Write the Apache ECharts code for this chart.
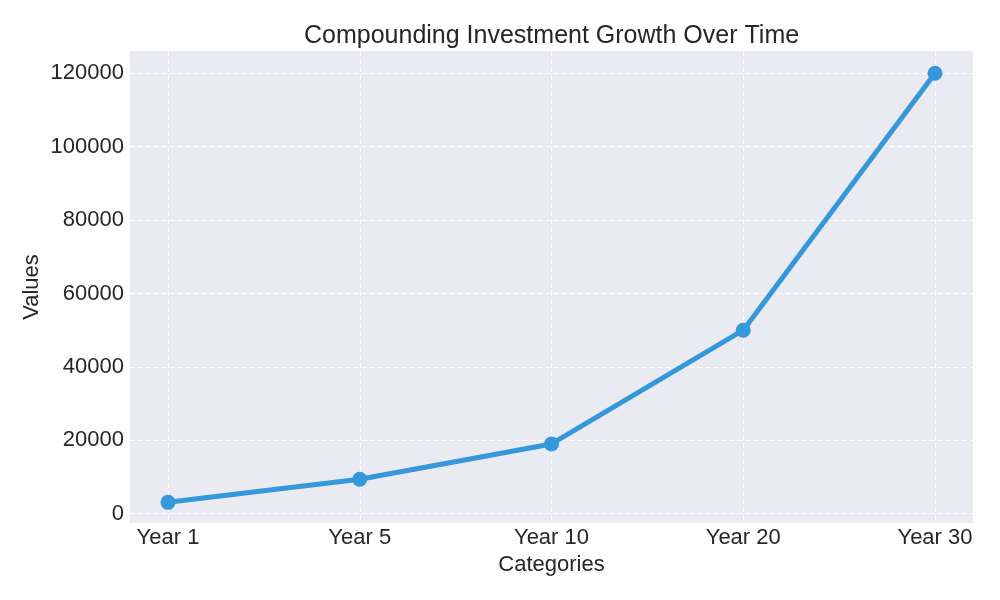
<!DOCTYPE html>
<html><head><meta charset="utf-8">
<script src="https://cdn.jsdelivr.net/npm/echarts@6/dist/echarts.min.js"></script>
<style>html,body{margin:0;padding:0;background:#fff}#c{width:1000px;height:600px}</style>
</head><body><div id="c"></div>
<script>
const categories = ['Year 1', 'Year 5', 'Year 10', 'Year 20', 'Year 30'];
const values = [3100, 9400, 19000, 50000, 120000];
const yTicks = { min: 0, max: 120000, interval: 20000 };

const FONT = 'Liberation Sans';
const TXT = '#262626';
const grid = { plotL: 130, plotW: 843, plotT: 51, plotH: 472, dataL: 168, dataW: 767, dataT: 73.3, dataH: 440.4 };
const dash = { color: '#ffffff', type: [5, 3], width: 1 };

const chart = echarts.init(document.getElementById('c'), null, { renderer: 'canvas' });
chart.setOption({
  animation: false,
  backgroundColor: '#ffffff',
  title: {
    text: 'Compounding Investment Growth Over Time',
    left: 299, top: 19,
    textStyle: { fontFamily: FONT, fontSize: 25, fontWeight: 'normal', color: TXT }
  },
  grid: [
    { left: grid.plotL, top: grid.plotT, width: grid.plotW, height: grid.plotH, show: true, backgroundColor: '#EAEAF2', borderWidth: 0, z: -1 },
    { left: grid.dataL, top: grid.plotT, width: grid.dataW, height: grid.plotH },
    { left: grid.plotL, top: grid.dataT, width: grid.plotW, height: grid.dataH },
    { left: grid.dataL, top: grid.dataT, width: grid.dataW, height: grid.dataH }
  ],
  xAxis: [
    { gridIndex: 0, type: 'value', show: false },
    { gridIndex: 1, type: 'category', data: categories, boundaryGap: false, z: 1,
      axisLine: { show: false }, axisTick: { show: false },
      axisLabel: { fontFamily: FONT, fontSize: 22, color: TXT, margin: 4 },
      splitLine: { show: true, lineStyle: dash },
      name: 'Categories', nameLocation: 'middle', nameGap: 31, nameMoveOverlap: false,
      nameTextStyle: { fontFamily: FONT, fontSize: 22, color: TXT } },
    { gridIndex: 2, type: 'value', show: false },
    { gridIndex: 3, type: 'category', data: categories, boundaryGap: false, show: false }
  ],
  yAxis: [
    { gridIndex: 0, type: 'value', show: false },
    { gridIndex: 1, type: 'value', show: true,
      axisLine: { show: false }, axisTick: { show: false }, axisLabel: { show: false }, splitLine: { show: false },
      name: 'Values', nameLocation: 'middle', nameGap: 125, nameMoveOverlap: false,
      nameTextStyle: { fontFamily: FONT, fontSize: 22, color: TXT } },
    { gridIndex: 2, type: 'value', min: yTicks.min, max: yTicks.max, interval: yTicks.interval, z: 1,
      axisLine: { show: false }, axisTick: { show: false },
      axisLabel: { fontFamily: FONT, fontSize: 22, color: TXT, margin: 6, padding: [3, 0, 0, 0], formatter: v => String(v) },
      splitLine: { show: true, lineStyle: dash } },
    { gridIndex: 3, type: 'value', min: yTicks.min, max: yTicks.max, show: false }
  ],
  series: [{
    type: 'line', xAxisIndex: 3, yAxisIndex: 3, data: values,
    symbol: 'circle', symbolSize: 15, z: 5,
    lineStyle: { color: '#3498db', width: 5 },
    itemStyle: { color: '#3498db' }
  }]
});
</script></body></html>
